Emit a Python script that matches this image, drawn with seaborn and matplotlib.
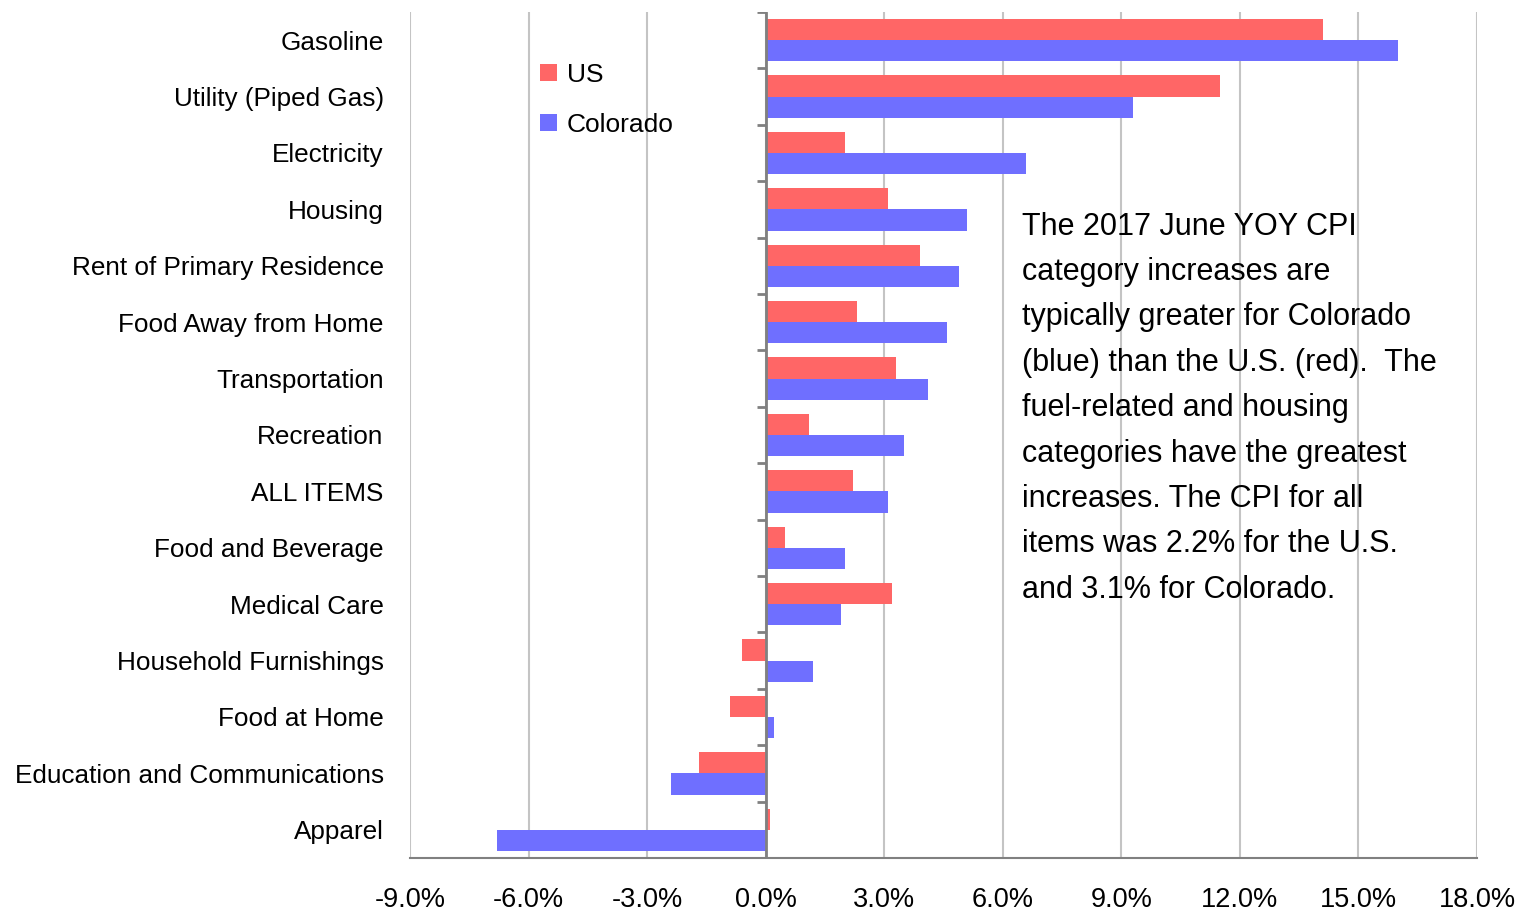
import matplotlib
matplotlib.use("Agg")
import matplotlib.pyplot as plt
import seaborn as sns
import pandas as pd
import numpy as np

categories = ["Gasoline", "Utility (Piped Gas)", "Electricity", "Housing",
              "Rent of Primary Residence", "Food Away from Home", "Transportation",
              "Recreation", "ALL ITEMS", "Food and Beverage", "Medical Care",
              "Household Furnishings", "Food at Home",
              "Education and Communications", "Apparel"]
us = [14.1, 11.5, 2.0, 3.1, 3.9, 2.3, 3.3, 1.1, 2.2, 0.5, 3.2, -0.6, -0.9, -1.7, 0.1]
colorado = [16.0, 9.3, 6.6, 5.1, 4.9, 4.6, 4.1, 3.5, 3.1, 2.0, 1.9, 1.2, 0.2, -2.4, -6.8]
x_ticks = [-9, -6, -3, 0, 3, 6, 9, 12, 15, 18]

note = ("The 2017 June YOY CPI\n"
        "category increases are\n"
        "typically greater for Colorado\n"
        "(blue) than the U.S. (red).  The\n"
        "fuel-related and housing\n"
        "categories have the greatest\n"
        "increases. The CPI for all\n"
        "items was 2.2% for the U.S.\n"
        "and 3.1% for Colorado.")

df = pd.DataFrame({
    "category": categories * 2,
    "value": us + colorado,
    "series": ["US"] * len(categories) + ["Colorado"] * len(categories),
})

sns.set_style("white")
plt.rcParams["font.family"] = ["Liberation Sans", "DejaVu Sans"]
plt.rcParams["text.color"] = "black"
plt.rcParams["xtick.labelcolor"] = "black"
plt.rcParams["ytick.labelcolor"] = "black"

fig = plt.figure(figsize=(15.17, 9.14), dpi=100)
ax = fig.add_axes([0.2703, 0.0613, 0.7033, 0.9256])

sns.barplot(data=df, y="category", x="value", hue="series", orient="h",
            palette={"US": "#FF6666", "Colorado": "#6F6FFF"},
            width=0.75, linewidth=0, saturation=1, ax=ax, zorder=3)

ax.set_xlim(-9, 18)
ax.set_ylim(len(categories) - 0.5, -0.5)
ax.set_xticks(x_ticks)
ax.set_xticklabels([f"{t:.1f}%" for t in x_ticks], fontsize=19.5)
ax.tick_params(axis="x", length=8, width=1.5, color="#808080", pad=13)
ax.tick_params(axis="y", length=0, labelsize=18.8, pad=19)
ax.set_xlabel("")
ax.set_ylabel("")

ax.grid(axis="x", color="#C4C4C4", linewidth=1.5, zorder=0)
ax.set_axisbelow(True)
for s in ["top", "right", "left"]:
    ax.spines[s].set_visible(False)
ax.spines["bottom"].set_color("#808080")
ax.spines["bottom"].set_linewidth(1.5)

# zero line with category separator ticks
ax.axvline(0, color="#808080", linewidth=2, zorder=4)
for b in np.arange(-0.5, len(categories), 1.0):
    ax.plot([-0.22, 0], [b, b], color="#808080", linewidth=2, zorder=4,
            solid_capstyle="butt")

leg = ax.legend(loc="upper left", bbox_to_anchor=(0.122, 0.94), frameon=False,
                fontsize=19, handlelength=0.62, handleheight=0.62,
                handletextpad=0.4, labelspacing=1.0, borderpad=0,
                borderaxespad=0)

ax.text(0.5736, 0.764, note, transform=ax.transAxes, ha="left", va="top",
        fontsize=22, linespacing=1.67, zorder=5)

fig.savefig("out.png", dpi=100)
